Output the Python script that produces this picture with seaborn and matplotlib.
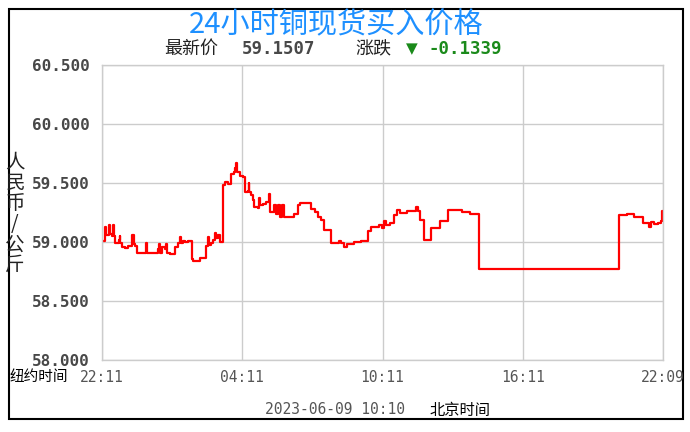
import matplotlib
matplotlib.use("Agg")
import matplotlib.pyplot as plt
import seaborn as sns
import pandas as pd
from matplotlib.patches import Rectangle

# ── Data (hours after 22:11 New York time, CNY/kg) ──
hours = [0.00, 0.11, 0.14, 0.18, 0.28, 0.33, 0.43, 0.45, 0.50, 0.57, 0.71, 0.75,
         0.79, 0.85, 0.99, 1.13, 1.28, 1.30, 1.35, 1.42, 1.49, 1.84, 1.87, 1.91,
         2.41, 2.45, 2.50, 2.58, 2.70, 2.72, 2.78, 2.91, 3.05, 3.12, 3.26, 3.33,
         3.38, 3.48, 3.55, 3.69, 3.86, 3.90, 4.18, 4.43, 4.47, 4.54, 4.57, 4.65,
         4.75, 4.82, 4.87, 4.96, 5.04, 5.18, 5.25, 5.39, 5.50, 5.65, 5.70, 5.74,
         5.79, 5.89, 6.03, 6.13, 6.24, 6.27, 6.31, 6.38, 6.45, 6.52, 6.67, 6.71,
         6.75, 6.88, 7.02, 7.13, 7.19, 7.35, 7.45, 7.55, 7.63, 7.69, 7.77, 8.23,
         8.37, 8.48, 8.82, 8.94, 9.11, 9.25, 9.39, 9.50, 9.81, 10.14, 10.21, 10.35,
         10.50, 10.78, 11.06, 11.38, 11.52, 11.84, 11.99, 12.06, 12.13, 12.34, 12.51,
         12.62, 12.77, 13.05, 13.45, 13.50, 13.62, 13.76, 14.08, 14.44, 14.81, 15.39,
         15.75, 16.11, 22.12, 22.45, 22.78, 23.14, 23.42, 23.48, 23.62, 23.77, 23.91,
         23.95, 24.00]
prices = [59.005, 59.06, 59.13, 59.06, 59.14, 59.07, 59.05, 59.14, 59.05, 58.99, 59.02, 59.05,
          58.99, 58.96, 58.95, 58.965, 58.98, 59.06, 58.98, 58.965, 58.91, 58.91, 58.99, 58.91,
          58.94, 58.98, 58.91, 58.96, 58.94, 58.98, 58.91, 58.90, 58.895, 58.96, 58.99, 59.04,
          58.99, 59.01, 59.00, 59.01, 58.86, 58.84, 58.865, 58.905, 58.965, 59.04, 58.975, 58.99,
          59.02, 59.08, 59.03, 59.06, 59.00, 59.48, 59.505, 59.49, 59.575, 59.59, 59.63, 59.67,
          59.59, 59.56, 59.55, 59.42, 59.43, 59.50, 59.42, 59.40, 59.36, 59.30, 59.29, 59.37,
          59.31, 59.32, 59.34, 59.41, 59.255, 59.31, 59.24, 59.31, 59.21, 59.31, 59.21, 59.24,
          59.31, 59.33, 59.33, 59.28, 59.255, 59.21, 59.19, 59.10, 58.99, 59.01, 58.99, 58.96,
          58.985, 59.00, 59.01, 59.09, 59.13, 59.145, 59.12, 59.18, 59.14, 59.16, 59.23,
          59.27, 59.25, 59.265, 59.30, 59.26, 59.19, 59.02, 59.12, 59.18, 59.27, 59.255,
          59.24, 58.77, 59.225, 59.235, 59.21, 59.16, 59.13, 59.17, 59.15, 59.165, 59.18,
          59.26, 59.20]

tick_hours = [0, 6, 12, 18, 24]
tick_labels = ["22:11", "04:11", "10:11", "16:11", "22:09"]
y_ticks = [58.0, 58.5, 59.0, 59.5, 60.0, 60.5]

df = pd.DataFrame({"hour": hours, "price": prices})

CJK = ["Noto Sans CJK SC", "DejaVu Sans"]
MONO = ["DejaVu Sans Mono"]

sns.set_style("white")
plt.rcParams["font.family"] = CJK

fig = plt.figure(figsize=(6.9, 4.32), dpi=100)
ax = fig.add_axes([102 / 690, 72 / 432, 561 / 690, 295 / 432])

sns.lineplot(data=df, x="hour", y="price", ax=ax, color="#ff0000",
             linewidth=1.6, drawstyle="steps-post", estimator=None)

ax.set_xlim(0, 24)
ax.set_ylim(58.0, 60.5)
ax.set_xticks(tick_hours)
ax.set_xticklabels([])
ax.set_yticks(y_ticks)
ax.set_yticklabels([f"{v:.3f}" for v in y_ticks],
                   family=MONO, fontweight="bold", fontsize=11.5, color="#484848")
ax.tick_params(axis="both", length=0, pad=9)
ax.grid(True, color="#cccccc", linewidth=1)
for s in ax.spines.values():
    s.set_color("#cccccc")
    s.set_linewidth(1)
ax.set_xlabel("")
ax.set_ylabel("")

# x tick labels placed in figure space, as in the source
for h, lab in zip(tick_hours, tick_labels):
    x = (102 + h / 24 * 561) / 690
    fig.text(x, 1 - 377 / 432, lab, ha="center", va="center",
             family=MONO, fontsize=10.5, color="#555555")
fig.text(10 / 690, 1 - 377 / 432, "纽约时间", ha="left", va="center",
         fontsize=10.5, color="black")

# ── Header ──
fig.text(336 / 690, 1 - 25 / 432, "24小时铜现货买入价格", ha="center", va="center",
         fontsize=21, color="#1e90ff")
fig.text(164 / 690, 1 - 49 / 432, "最新价", ha="left", va="center",
         fontsize=13, color="#222222")
fig.text(242 / 690, 1 - 49 / 432, "59.1507", ha="left", va="center",
         family=MONO, fontweight="bold", fontsize=12.5, color="#484848")
fig.text(355 / 690, 1 - 49 / 432, "涨跌", ha="left", va="center",
         fontsize=13, color="#222222")
fig.text(406 / 690, 1 - 49 / 432, "▼", ha="left", va="center",
         family=["DejaVu Sans"], fontsize=11, color="#1a8a1a")
fig.text(428 / 690, 1 - 49 / 432, "-0.1339", ha="left", va="center",
         family=MONO, fontweight="bold", fontsize=12.5, color="#1a8a1a")

# vertical unit label
fig.text(15 / 690, 1 - 214 / 432, "人\n民\n币\n/\n公\n斤", ha="center", va="center",
         fontsize=14, linespacing=0.98, color="#222222")

# ── Footer ──
fig.text(265 / 690, 1 - 410 / 432, "2023-06-09 10:10", ha="left", va="center",
         family=MONO, fontsize=10.5, color="#555555")
fig.text(430 / 690, 1 - 410 / 432, "北京时间", ha="left", va="center",
         fontsize=11, color="black")

# outer frame
fig.patches.append(Rectangle((9 / 690, 1 - 419 / 432), 674 / 690, 410 / 432,
                             transform=fig.transFigure, fill=False,
                             edgecolor="black", linewidth=1.5))

fig.savefig("out.png", dpi=100)
